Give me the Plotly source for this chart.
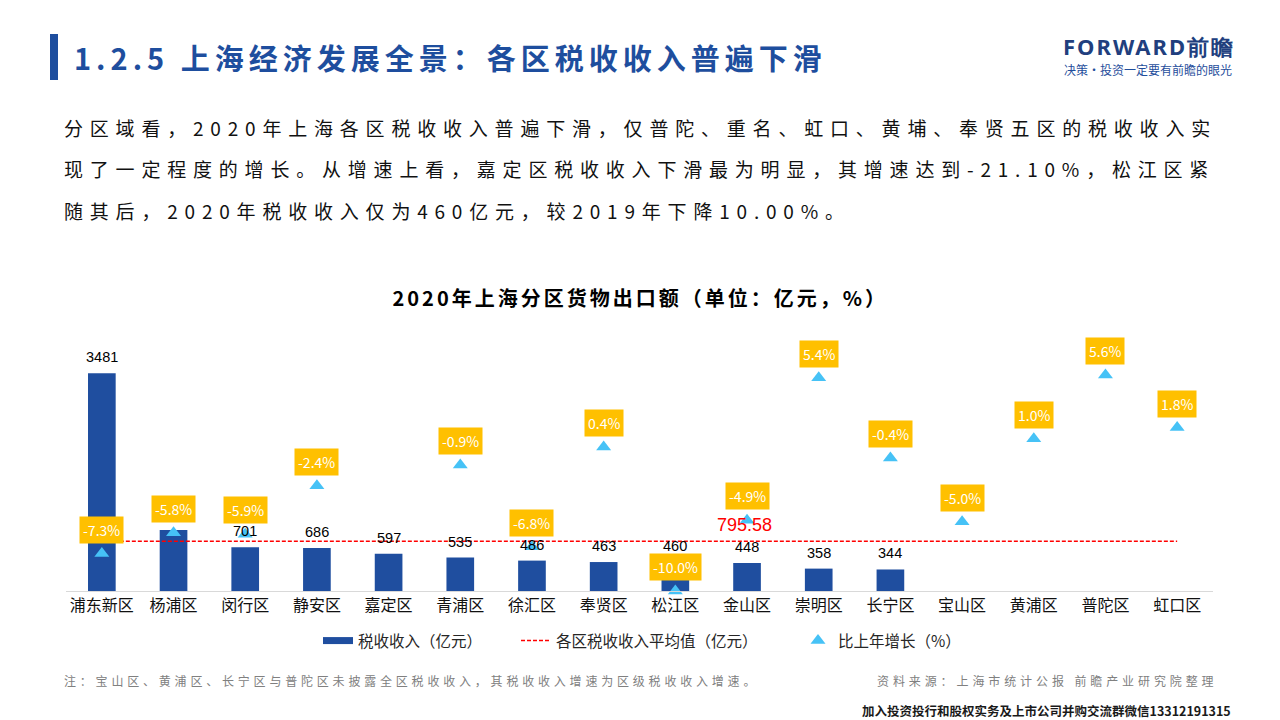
import json
import plotly.graph_objects as go

# ---------------- data ----------------
districts = ["浦东新区", "杨浦区", "闵行区", "静安区", "嘉定区", "青浦区", "徐汇区", "奉贤区",
             "松江区", "金山区", "崇明区", "长宁区", "宝山区", "黄浦区", "普陀区", "虹口区"]
tax_revenue = [3481, 975, 701, 686, 597, 535, 486, 463, 460, 448, 358, 344, None, None, None, None]
growth_pct = [-7.3, -5.8, -5.9, -2.4, -21.1, -0.9, -6.8, 0.4, -10.0, -4.9, 5.4, -0.4, -5.0, 1.0, 5.6, 1.8]
avg_tax = 795.58
avg_label_district = "金山区"
# value labels that are hidden behind a growth box in the original
hidden_value_labels = ["杨浦区"]

page_title = "1.2.5 上海经济发展全景：各区税收收入普遍下滑"
paragraph = [
    "分区域看，2020年上海各区税收收入普遍下滑，仅普陀、重名、虹口、黄埔、奉贤五区的税收收入实",
    "现了一定程度的增长。从增速上看，嘉定区税收收入下滑最为明显，其增速达到-21.10%，松江区紧",
    "随其后，2020年税收收入仅为460亿元，较2019年下降10.00%。",
]
chart_title = "2020年上海分区货物出口额（单位：亿元，%）"
legend_names = ["税收收入（亿元）", "各区税收收入平均值（亿元）", "比上年增长（%）"]
note_text = "注：宝山区、黄浦区、长宁区与普陀区未披露全区税收收入，其税收收入增速为区级税收收入增速。"
source_text = "资料来源：上海市统计公报 前瞻产业研究院整理"
footer_text = "加入投资投行和股权实务及上市公司并购交流群微信13312191315"
logo_text = "FORWARD前瞻"
logo_sub = "决策·投资一定要有前瞻的眼光"

# ---------------- style ----------------
BLUE = "#1F4E9F"
TITLE_BLUE = "#1E4E9E"
YELLOW = "#FFC000"
TRI = "#46C2F6"
RED = "#FF0000"
FONT = "Noto Sans CJK SC"

W, H = 1280, 720
L, R, T, B = 66, 1213, 350, 591
Y1_MAX = 3853
Y2_MIN, Y2_MAX = -10, 7.4


def px(x):
    return (x - L) / (R - L)


def py(y):
    return (B - y) / (B - T)


growth_visible = [g if g >= Y2_MIN else None for g in growth_pct]

fig = go.Figure()

fig.add_trace(go.Bar(
    x=districts, y=tax_revenue, width=0.386, marker=dict(color=BLUE, line=dict(width=0)),
    name=legend_names[0], showlegend=False, yaxis="y",
))
# legend proxy for bars (wide flat rectangle)
fig.add_trace(go.Scatter(
    x=[None], y=[None], mode="lines", line=dict(color=BLUE, width=7),
    name=legend_names[0], showlegend=True, legend="legend",
))
fig.add_trace(go.Scatter(
    x=districts, y=[avg_tax] * len(districts), mode="lines",
    line=dict(color=RED, width=1.5, dash="4px,2px"),
    name=legend_names[1], yaxis="y", legend="legend2",
))
fig.add_trace(go.Scatter(
    x=districts, y=growth_visible, mode="markers",
    marker=dict(symbol="triangle-up", size=13, color=TRI),
    name=legend_names[2], yaxis="y2", cliponaxis=False, legend="legend3",
))

ann = []
# bar value labels
for d, v in zip(districts, tax_revenue):
    if v is not None and d not in hidden_value_labels:
        ann.append(dict(x=d, y=v, xref="x", yref="y", text=str(v), showarrow=False,
                        yshift=16, font=dict(family="Liberation Sans", size=14.5, color="#000000")))
# average label
ann.append(dict(x=avg_label_district, y=avg_tax, xref="x", yref="y", text=f"{avg_tax:.2f}",
                showarrow=False, yshift=16, xshift=-3,
                font=dict(family="Liberation Sans", size=18, color=RED)))
# growth labels
for d, g in zip(districts, growth_visible):
    if g is not None:
        ann.append(dict(x=d, y=g, xref="x", yref="y2", text=f"{g:.1f}%", showarrow=False,
                        yshift=24, bgcolor=YELLOW, borderpad=3,
                        font=dict(family=FONT, size=14, color="#FFFFFF")))

# page texts
ann.append(dict(x=px(72), y=py(57), xref="paper", yref="paper", text=page_title, showarrow=False,
                xanchor="left", yanchor="middle", align="left",
                font=dict(family=FONT, size=29, color=TITLE_BLUE, weight="bold")))
for line, yy in zip(paragraph, [127, 168, 210]):
    ann.append(dict(x=px(62), y=py(yy), xref="paper", yref="paper", text=line, showarrow=False,
                    xanchor="left", yanchor="middle", align="left",
                    font=dict(family=FONT, size=19, color="#111111")))
ann.append(dict(x=px(640), y=py(297), xref="paper", yref="paper", text=chart_title, showarrow=False,
                xanchor="center", yanchor="middle", align="center",
                font=dict(family=FONT, size=20, color="#000000", weight="bold")))
ann.append(dict(x=px(62), y=py(680), xref="paper", yref="paper", text=note_text, showarrow=False,
                xanchor="left", yanchor="middle", align="left",
                font=dict(family=FONT, size=12, color="#808080")))
ann.append(dict(x=px(875), y=py(680), xref="paper", yref="paper", text=source_text, showarrow=False,
                xanchor="left", yanchor="middle", align="left",
                font=dict(family=FONT, size=12, color="#808080")))
ann.append(dict(x=px(1233), y=py(710), xref="paper", yref="paper", text=footer_text, showarrow=False,
                xanchor="right", yanchor="middle", align="right",
                font=dict(family=FONT, size=12.5, color="#1a1a1a", weight="bold")))
ann.append(dict(x=px(1061), y=py(46), xref="paper", yref="paper", text=logo_text, showarrow=False,
                xanchor="left", yanchor="middle", align="left",
                font=dict(family="Noto Sans", size=22, color="#213F7E", weight="bold")))
ann.append(dict(x=px(1062), y=py(69), xref="paper", yref="paper", text=logo_sub, showarrow=False,
                xanchor="left", yanchor="middle", align="left",
                font=dict(family=FONT, size=12, color="#1F4E9C")))

shapes = [dict(type="rect", xref="paper", yref="paper", x0=px(50), x1=px(58), y0=py(80), y1=py(34),
               fillcolor=TITLE_BLUE, line=dict(width=0))]

legend_common = dict(orientation="h", y=py(641), xanchor="left", yanchor="middle",
                     font=dict(family=FONT, size=15.5, color="#262626"), bgcolor="rgba(0,0,0,0)",
                     itemwidth=30)

fig.update_layout(
    width=W, height=H,
    margin=dict(l=L, r=W - R, t=T, b=H - B, pad=0),
    paper_bgcolor="white", plot_bgcolor="white",
    font=dict(family=FONT, color="#000000"),
    xaxis=dict(type="category", categoryorder="array", categoryarray=districts,
               range=[-0.5, len(districts) - 0.5], showgrid=False, zeroline=False,
               showline=True, linecolor="#D9D9D9", linewidth=1, ticks="",
               tickfont=dict(family=FONT, size=16, color="#111111")),
    yaxis=dict(range=[0, Y1_MAX], visible=False, showgrid=False, zeroline=False),
    yaxis2=dict(range=[Y2_MIN, Y2_MAX], overlaying="y", side="right", visible=False,
                showgrid=False, zeroline=False),
    legend=dict(x=px(318), **legend_common),
    legend2=dict(x=px(516), **legend_common),
    legend3=dict(x=px(798), **legend_common),
    annotations=ann, shapes=shapes,
    showlegend=True,
)

spacing = {page_title: 5, chart_title: 3, note_text: 3.8, source_text: 3.9, logo_text: 2}
for line in paragraph:
    spacing[line] = 6.8

js = """
(function(){
var sp = %s;
function apply(){
  var els = document.querySelectorAll('.annotation-text');
  els.forEach(function(t){ var s=t.textContent; if(Object.prototype.hasOwnProperty.call(sp, s)){ t.style.letterSpacing = sp[s] + 'px'; } });
}
apply();
try { var gd=document.getElementById('{plot_id}'); if(gd && gd.on){ gd.on('plotly_afterplot', apply); } } catch(e) {}
setTimeout(apply, 50); setTimeout(apply, 400);
})();
""" % json.dumps(spacing, ensure_ascii=False)

fig.write_html("out.html", config={"displayModeBar": False}, post_script=js)
